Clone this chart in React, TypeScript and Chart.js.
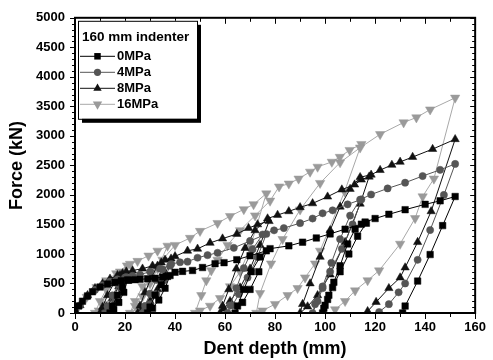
import React, { useEffect, useRef } from 'react';
import { Chart, registerables } from 'chart.js';

Chart.register(...registerables);

// ---------- data (dent depth in mm, force in kN) ----------
const dent0MPa = [0, 1.5, 3, 5, 7, 10, 13, 16, 18.5, 21,
  19.5, 17.5, 15.5, 14,
  15, 17, 19, 21.5, 24, 26, 29, 32, 35, 38,
  36, 33.5, 31, 29,
  30, 32, 34.5, 37, 40, 43, 47, 51, 56, 59.6, 64.7, 70, 76.5,
  73.5, 70, 67, 64,
  65, 67.5, 70.5, 74, 78, 85.5, 91, 96.5, 102, 108, 114.5, 116.5,
  113, 109.5, 106, 103, 101, 99.5, 99,
  100, 101.5, 103.5, 106, 109, 112, 116, 120, 125.5, 132, 140, 146, 152,
  147, 142, 137, 132, 131];
const force0MPa = [0, 120, 200, 290, 360, 440, 490, 520, 545, 560,
  350, 180, 60, 0,
  120, 300, 450, 555, 565, 570, 580, 590, 610, 635,
  420, 220, 80, 0,
  100, 300, 480, 620, 690, 705, 720, 770, 836, 853, 903, 970, 1053,
  700, 400, 180, 0,
  120, 400, 700, 950, 1090, 1137, 1200, 1271, 1340, 1420, 1505, 1522,
  1300, 1000, 700, 430, 230, 80, 0,
  130, 300, 520, 800, 1170, 1420, 1540, 1600, 1672, 1750, 1840, 1900, 1973,
  1480, 990, 540, 117, 0];

const dent4MPa = [0, 2, 5, 8, 11, 14, 17, 20,
  18.5, 16, 14, 12,
  13, 15, 17.5, 20.5, 23, 26, 30, 34, 38,
  35.5, 32.5, 30, 28, 27,
  28, 30, 32.5, 35, 38.5, 42, 45, 49, 53, 57, 63.5, 70, 76.5,
  73, 69, 65.5, 63, 61,
  62, 64.5, 67.5, 71, 75, 79.6, 83.5, 90, 95, 99, 103, 109, 114.5,
  111, 106.7, 102, 99, 97, 95,
  96, 99, 102.5, 106, 110, 114, 118.4, 125, 132, 139, 146, 152,
  147.5, 142, 137, 132, 129.4, 125.5, 121.6];
const force4MPa = [0, 130, 280, 390, 470, 530, 570, 600,
  400, 200, 70, 0,
  110, 300, 480, 610, 630, 650, 700, 750, 800,
  550, 320, 150, 50, 0,
  120, 330, 560, 740, 830, 860, 870, 936, 980, 1020, 1104, 1220, 1338,
  950, 600, 320, 130, 0,
  130, 420, 760, 1080, 1330, 1400, 1438, 1522, 1600, 1689, 1739, 1840, 1923,
  1500, 1087, 700, 420, 200, 0,
  150, 450, 850, 1250, 1650, 1920, 2007, 2110, 2207, 2320, 2425, 2525,
  2000, 1405, 900, 500, 350, 150, 17];

const dent8MPa = [0, 2, 5, 8, 11, 14, 17, 19,
  17.5, 15, 12.5, 10,
  11, 13, 15.5, 18, 20.5, 23, 27, 31, 34.5, 38.4,
  36, 33, 30, 27, 25,
  26, 28, 30.5, 33, 36, 40, 45, 49, 54, 59, 64.7, 69.4, 73, 77.6,
  74, 70, 66, 62, 59.5, 58,
  59, 61.5, 64.5, 68, 72, 77, 81, 85.5, 90, 95, 101, 106.7, 111.8, 114.5, 117.6,
  114, 108, 102, 97, 93, 90,
  91, 94, 98, 102, 106, 110, 114, 118.4, 122, 126.7, 130, 135, 143, 152,
  142.4, 137, 132, 130, 125.5, 120.4, 117];
const force8MPa = [0, 130, 300, 420, 500, 580, 640, 670,
  450, 250, 100, 0,
  100, 300, 500, 640, 700, 720, 750, 800, 853, 920,
  650, 400, 200, 70, 0,
  120, 350, 600, 800, 900, 960, 1053, 1087, 1187, 1260, 1338, 1438, 1500, 1555,
  1150, 750, 430, 200, 70, 0,
  120, 400, 750, 1100, 1400, 1600, 1660, 1722, 1790, 1856, 1970, 2090, 2174, 2258, 2308,
  1850, 1200, 650, 300, 110, 0,
  150, 500, 950, 1400, 1800, 2100, 2300, 2341, 2420, 2508, 2559, 2642, 2776, 2943,
  1722, 1200, 770, 600, 420, 185, 30];

const dent16MPa = [0, 0.8, 4.7, 8.6, 12.5, 16.5, 20.8,
  18, 15, 12, 9.5, 8,
  10, 12.5, 15, 18, 22, 25, 29.4, 33, 37,
  33, 30, 27, 24, 22,
  24, 27, 31, 35, 40, 46, 50, 57, 62, 67.5, 71.4, 76.5,
  70, 66, 62, 58, 54, 50, 48,
  50.5, 52.5, 54.5, 57, 61, 66, 72, 78, 81.6, 85.5, 89.4, 94, 97, 102.7, 105.9, 109.8, 114.5,
  107.8, 98, 96, 92, 89, 85, 80, 75, 72.5,
  74, 78.4, 83, 90, 98, 106, 114, 122, 131.4, 136.5, 142, 152,
  143.5, 139, 136, 130, 121.6, 117, 112, 108, 104];
const force16MPa = [0, 100, 270, 435, 550, 670, 803,
  500, 300, 150, 40, 0,
  200, 400, 560, 700, 830, 880, 970, 1053, 1137,
  750, 500, 280, 120, 0,
  200, 450, 700, 900, 1150, 1270, 1388, 1522, 1640, 1756, 1840, 2023,
  1100, 700, 450, 250, 120, 40, 0,
  300, 550, 720, 900, 1150, 1400, 1650, 1900, 2140, 2190, 2274, 2391, 2475, 2559, 2642, 2759, 2860,
  2057, 1053, 836, 600, 420, 300, 150, 40, 0,
  335, 836, 1250, 1750, 2200, 2550, 2800, 3027, 3227, 3311, 3445, 3645,
  2274, 1973, 1605, 1170, 719, 552, 380, 200, 60];

const seriesLabels = ['0MPa', '4MPa', '8MPa', '16MPa'];
const legendTitle = '160 mm indenter';
const xTitle = 'Dent depth (mm)';
const yTitle = 'Force (kN)';
const xMin = 0, xMax = 160, xStep = 20, xMinor = 10;
const yMin = 0, yMax = 5000, yStep = 500, yMinor = 100;

const FONT = "'Liberation Sans', Arial, sans-serif";

type Style = { color: string; line: string; shape: string; rot: number; r: number };
const styles: Style[] = [
  { color: '#000000', line: '#000000', shape: 'rect', rot: 0, r: 4.6 },
  { color: '#555555', line: '#555555', shape: 'circle', rot: 0, r: 3.6 },
  { color: '#111111', line: '#111111', shape: 'triangle', rot: 0, r: 4.8 },
  { color: '#9a9a9a', line: '#a8a8a8', shape: 'triangle', rot: 180, r: 5.4 },
];

function pts(xs: number[], ys: number[]) {
  return xs.map((x, i) => ({ x, y: ys[i] }));
}

function drawMarker(ctx: CanvasRenderingContext2D, s: Style, x: number, y: number) {
  ctx.save();
  ctx.fillStyle = s.color;
  ctx.beginPath();
  if (s.shape === 'rect') {
    const h = s.r / Math.SQRT2;
    ctx.rect(x - h, y - h, 2 * h, 2 * h);
  } else if (s.shape === 'circle') {
    ctx.arc(x, y, s.r, 0, Math.PI * 2);
  } else {
    let rad = (s.rot * Math.PI) / 180;
    ctx.moveTo(x + Math.sin(rad) * s.r, y - Math.cos(rad) * s.r);
    rad += (2 * Math.PI) / 3;
    ctx.lineTo(x + Math.sin(rad) * s.r, y - Math.cos(rad) * s.r);
    rad += (2 * Math.PI) / 3;
    ctx.lineTo(x + Math.sin(rad) * s.r, y - Math.cos(rad) * s.r);
    ctx.closePath();
  }
  ctx.fill();
  ctx.restore();
}

const framePlugin = {
  id: 'frameLegend',
  afterDatasetsDraw(chart: any) {
    const { ctx, chartArea: a, scales } = chart;
    const xs = scales.x, ys = scales.y;
    ctx.save();
    ctx.strokeStyle = '#000';
    ctx.lineWidth = 1;
    ctx.beginPath();
    for (let v = yMin; v <= yMax; v += yMinor) {
      const py = Math.round(ys.getPixelForValue(v)) + 0.5;
      const major = v % yStep === 0;
      const len = major ? 5 : 3;
      ctx.moveTo(a.left, py); ctx.lineTo(a.left - len, py);
      ctx.moveTo(a.right, py); ctx.lineTo(a.right - len, py);
    }
    for (let v = xMin; v <= xMax; v += xMinor) {
      const px = Math.round(xs.getPixelForValue(v)) + 0.5;
      const major = v % xStep === 0;
      const len = major ? 6 : 4;
      ctx.moveTo(px, a.bottom); ctx.lineTo(px, a.bottom + len);
      ctx.moveTo(px, a.top); ctx.lineTo(px, a.top + len);
    }
    ctx.stroke();
    ctx.lineWidth = 2;
    ctx.strokeRect(a.left, a.top, a.right - a.left, a.bottom - a.top);

    // legend
    const bx = a.left + 3, by = a.top + 3, bw = 119, bh = 98;
    ctx.fillStyle = '#000';
    ctx.fillRect(bx + 4, by + 4, bw, bh);
    ctx.fillStyle = '#fff';
    ctx.fillRect(bx, by, bw, bh);
    ctx.lineWidth = 1;
    ctx.strokeStyle = '#000';
    ctx.strokeRect(bx + 0.5, by + 0.5, bw, bh);
    ctx.fillStyle = '#000';
    ctx.textBaseline = 'middle';
    ctx.textAlign = 'left';
    ctx.font = `bold 13.5px ${FONT}`;
    ctx.fillText(legendTitle, bx + 4, by + 16);
    ctx.font = `bold 13px ${FONT}`;
    seriesLabels.forEach((lab, i) => {
      const y = by + 35 + i * 16;
      const s = styles[i];
      ctx.strokeStyle = s.line;
      ctx.lineWidth = 1;
      ctx.beginPath();
      ctx.moveTo(bx + 2, y + 0.5);
      ctx.lineTo(bx + 37, y + 0.5);
      ctx.stroke();
      drawMarker(ctx, s, bx + 19.5, y + 0.5);
      ctx.fillStyle = '#000';
      ctx.fillText(lab, bx + 39, y + 1);
    });
    ctx.restore();
  },
};

export default function App() {
  const ref = useRef<HTMLCanvasElement | null>(null);
  useEffect(() => {
    document.body.style.margin = '0';
    const canvas = ref.current!;
    const series = [
      pts(dent0MPa, force0MPa),
      pts(dent4MPa, force4MPa),
      pts(dent8MPa, force8MPa),
      pts(dent16MPa, force16MPa),
    ];
    const chart = new Chart(canvas, {
      type: 'line',
      data: {
        datasets: series.map((d, i) => ({
          label: seriesLabels[i],
          data: d,
          borderColor: styles[i].line,
          backgroundColor: styles[i].color,
          borderWidth: 1,
          pointStyle: styles[i].shape,
          rotation: styles[i].rot,
          pointRadius: styles[i].r,
          pointBorderWidth: 0.5,
          pointBorderColor: styles[i].color,
          pointBackgroundColor: styles[i].color,
          tension: 0,
          fill: false,
        })),
      },
      options: {
        animation: false,
        responsive: false,
        devicePixelRatio: 1,
        layout: { padding: { left: 0, right: 10, top: 14, bottom: 0 } },
        plugins: { legend: { display: false }, tooltip: { enabled: false } },
        scales: {
          x: {
            type: 'linear',
            min: xMin, max: xMax,
            grid: { display: false, drawTicks: false },
            border: { display: false },
            ticks: { stepSize: xStep, padding: 7, color: '#000', font: { family: FONT, size: 13, weight: 'bold' }, maxRotation: 0, callback: (v: any) => String(v) },
            title: { display: true, text: xTitle, color: '#000', font: { family: FONT, size: 18, weight: 'bold' }, padding: { top: 0, bottom: 0 } },
            afterFit: (s: any) => { s.height = 47; },
          },
          y: {
            type: 'linear',
            min: yMin, max: yMax,
            grid: { display: false, drawTicks: false },
            border: { display: false },
            ticks: { stepSize: yStep, padding: 10, color: '#000', font: { family: FONT, size: 13, weight: 'bold' }, callback: (v: any) => String(v) },
            title: { display: true, text: yTitle, color: '#000', font: { family: FONT, size: 18, weight: 'bold' }, padding: { top: 6, bottom: 0 } },
            afterFit: (s: any) => { s.width = 75; },
          },
        },
      },
      plugins: [framePlugin],
    } as any);
    return () => chart.destroy();
  }, []);
  return (
    <div style={{ width: 493, height: 360 }}>
      <canvas ref={ref} width={493} height={360} style={{ display: 'block' }} />
    </div>
  );
}
